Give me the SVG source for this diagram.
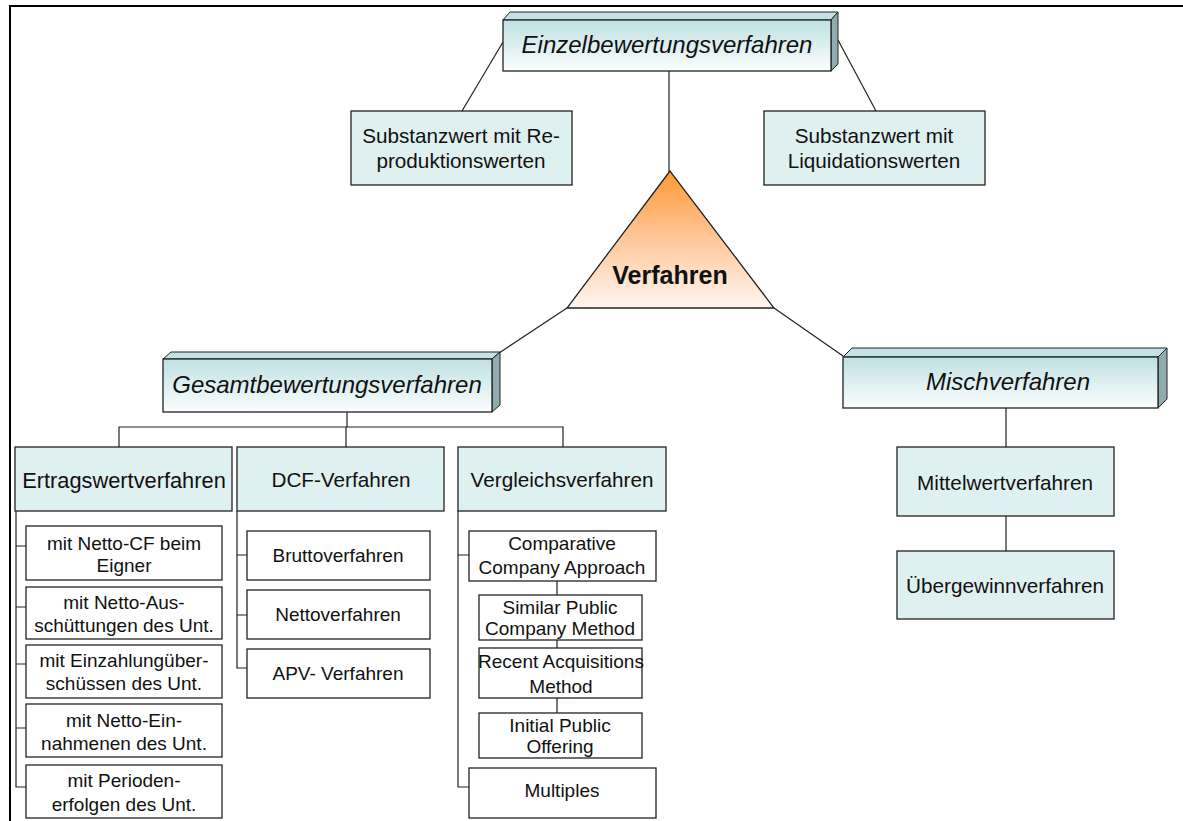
<svg xmlns="http://www.w3.org/2000/svg" width="1183" height="821" viewBox="0 0 1183 821">
<defs>
<linearGradient id="g3d" x1="0" y1="0" x2="0" y2="1">
<stop offset="0" stop-color="#bfe0e3"/>
<stop offset="1" stop-color="#fbfefe"/>
</linearGradient>
<linearGradient id="gtri" x1="0" y1="0" x2="0" y2="1">
<stop offset="0" stop-color="#ff9933"/>
<stop offset="0.5" stop-color="#ffc79a"/>
<stop offset="1" stop-color="#fff6f0"/>
</linearGradient>
<style>
.b{fill:#dff0f0;stroke:#222;stroke-width:1.3}
.w{fill:#fff;stroke:#222;stroke-width:1.3}
.f{fill:url(#g3d);stroke:#222;stroke-width:1.3}
.tp{fill:#c4e2e5;stroke:#222;stroke-width:1}
.sd{fill:#8fadb1;stroke:#222;stroke-width:1}
.c{fill:none;stroke:#222;stroke-width:1.2}
text{font-family:"Liberation Sans",Arial,sans-serif;fill:#111;text-anchor:middle}
.t21{font-size:20.7px}
.t19{font-size:19px}
.it{font-size:24px;font-style:italic}
</style>
</defs>
<rect width="1183" height="821" fill="#fff"/>
<path d="M10 821 V6 H1183" fill="none" stroke="#000" stroke-width="2"/>

<g id="connectors">
<line class="c" x1="503" y1="42" x2="462" y2="111"/>
<line class="c" x1="838" y1="40" x2="876" y2="111"/>
<line class="c" x1="669" y1="71" x2="669" y2="172"/>
<line class="c" x1="567" y1="308" x2="499" y2="353"/>
<line class="c" x1="774" y1="308" x2="843" y2="356"/>
<line class="c" x1="347" y1="412" x2="347" y2="427"/>
<path class="c" d="M119 447 V427 H563 V447 M346 427 V447"/>
<line class="c" x1="1006" y1="408" x2="1006" y2="447"/>
<line class="c" x1="1006" y1="516" x2="1006" y2="551"/>
<path class="c" d="M16 511 V787 H26 M16 546 H26 M16 607 H26 M16 664 H26 M16 728 H26"/>
<path class="c" d="M237 511 V668 H247 M237 555 H247 M237 615 H247"/>
<path class="c" d="M458 511 V787 H469 M458 555 H469"/>
<path class="c" d="M557 581 V595 M557 640 V648 M557 698 V713"/>
</g>

<g id="einzel">
<polygon class="tp" points="503,20 510,12 838,12 831,20"/>
<polygon class="sd" points="831,20 838,12 838,64 831,71"/>
<rect class="f" x="503" y="20" width="328" height="51"/>
<text class="it" x="667" y="53">Einzelbewertungsverfahren</text>
</g>

<g id="substanz-re">
<rect class="b" x="351" y="111" width="221" height="74"/>
<text class="t21" x="461" y="143">Substanzwert mit Re-</text>
<text class="t21" x="461" y="168">produktionswerten</text>
</g>

<g id="substanz-liq">
<rect class="b" x="764" y="111" width="221" height="74"/>
<text class="t21" x="874" y="143">Substanzwert mit</text>
<text class="t21" x="874" y="168">Liquidationswerten</text>
</g>

<g id="verfahren">
<polygon points="670,171 567,308 774,308" fill="url(#gtri)" stroke="#222" stroke-width="1.3"/>
<text x="670" y="284" style="font-size:25px;font-weight:bold">Verfahren</text>
</g>

<g id="gesamt">
<polygon class="tp" points="163,359 171,352 500,352 492,359"/>
<polygon class="sd" points="492,359 500,352 500,405 492,412"/>
<rect class="f" x="163" y="359" width="329" height="53"/>
<text class="it" x="327" y="393">Gesamtbewertungsverfahren</text>
</g>

<g id="misch">
<polygon class="tp" points="843,357 852,348 1167,348 1158,357"/>
<polygon class="sd" points="1158,357 1167,348 1167,399 1158,408"/>
<rect class="f" x="843" y="357" width="315" height="51"/>
<text class="it" x="1008" y="390">Mischverfahren</text>
</g>

<g id="mittelwert">
<rect class="b" x="897" y="447" width="217" height="69"/>
<text class="t21" x="1005" y="490">Mittelwertverfahren</text>
</g>
<g id="uebergewinn">
<rect class="b" x="897" y="551" width="217" height="68"/>
<text class="t21" x="1005" y="593">Übergewinnverfahren</text>
</g>

<g id="ertragswert">
<rect class="b" x="15" y="447" width="217" height="64"/>
<text x="124" y="488" style="font-size:21.8px">Ertragswertverfahren</text>
</g>
<g id="dcf">
<rect class="b" x="237" y="447" width="207" height="64"/>
<text class="t21" x="341" y="487">DCF-Verfahren</text>
</g>
<g id="vergleich">
<rect class="b" x="458" y="447" width="208" height="64"/>
<text class="t21" x="562" y="487">Vergleichsverfahren</text>
</g>

<g id="e1"><rect class="w" x="26" y="526" width="196" height="54"/>
<text class="t19" x="124" y="550">mit Netto-CF beim</text><text class="t19" x="124" y="572">Eigner</text></g>
<g id="e2"><rect class="w" x="26" y="587" width="196" height="52"/>
<text class="t19" x="124" y="609">mit Netto-Aus-</text><text class="t19" x="124" y="632">schüttungen des Unt.</text></g>
<g id="e3"><rect class="w" x="26" y="645" width="196" height="53"/>
<text class="t19" x="124" y="667">mit Einzahlungüber-</text><text class="t19" x="124" y="690">schüssen des Unt.</text></g>
<g id="e4"><rect class="w" x="26" y="704" width="196" height="53"/>
<text class="t19" x="124" y="727">mit Netto-Ein-</text><text class="t19" x="124" y="750">nahmenen des Unt.</text></g>
<g id="e5"><rect class="w" x="26" y="765" width="196" height="53"/>
<text class="t19" x="124" y="787">mit Perioden-</text><text class="t19" x="124" y="811">erfolgen des Unt.</text></g>

<g id="d1"><rect class="w" x="247" y="531" width="183" height="49"/>
<text class="t19" x="338" y="562">Bruttoverfahren</text></g>
<g id="d2"><rect class="w" x="247" y="590" width="183" height="49"/>
<text class="t19" x="338" y="621">Nettoverfahren</text></g>
<g id="d3"><rect class="w" x="247" y="649" width="183" height="49"/>
<text class="t19" x="338" y="680">APV- Verfahren</text></g>

<g id="v1"><rect class="w" x="469" y="531" width="187" height="50"/>
<text class="t19" x="562" y="550">Comparative</text><text class="t19" x="562" y="574">Company Approach</text></g>
<g id="v2"><rect class="w" x="479" y="595" width="163" height="45"/>
<text class="t19" x="560" y="614">Similar Public</text><text class="t19" x="560" y="635">Company Method</text></g>
<g id="v3"><rect class="w" x="479" y="648" width="163" height="50"/>
<text class="t19" x="561" y="668">Recent Acquisitions</text><text class="t19" x="561" y="693">Method</text></g>
<g id="v4"><rect class="w" x="479" y="713" width="163" height="45"/>
<text class="t19" x="560" y="732">Initial Public</text><text class="t19" x="560" y="753">Offering</text></g>
<g id="v5"><rect class="w" x="469" y="768" width="187" height="50"/>
<text class="t19" x="562" y="797">Multiples</text></g>
</svg>
